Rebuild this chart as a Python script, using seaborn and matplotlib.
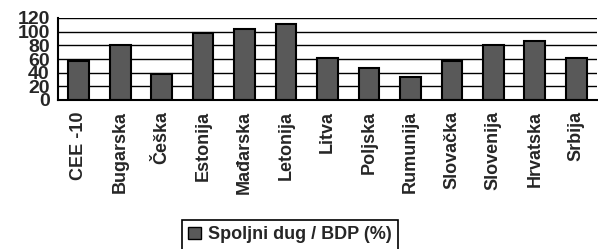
import pandas as pd
import seaborn as sns
import matplotlib.pyplot as plt
from matplotlib.patches import Patch

# Data
countries = ['CEE -10', 'Bugarska', 'Češka', 'Estonija', 'Mađarska', 'Letonija',
             'Litva', 'Poljska', 'Rumunija', 'Slovačka', 'Slovenija', 'Hrvatska', 'Srbija']
debt_gdp = [57, 80, 38, 98, 104, 111, 61, 47, 34, 57, 80, 86, 61]
series_name = 'Spoljni dug / BDP (%)'
y_ticks = [0, 20, 40, 60, 80, 100, 120]

df = pd.DataFrame({'country': countries, 'value': debt_gdp})

sns.set_style('white')
plt.rcParams['font.family'] = ['Liberation Sans', 'DejaVu Sans']
plt.rcParams['font.weight'] = 'bold'

fig = plt.figure(figsize=(5.98, 2.49), dpi=100)
ax = fig.add_axes([58 / 598, 1 - 100 / 249, (597 - 58) / 598, 82 / 249])

bar_color = '#595959'
sns.barplot(data=df, x='country', y='value', color=bar_color, width=0.5,
            edgecolor='black', linewidth=1.5, saturation=1, ax=ax)

ax.set_ylim(0, 120)
ax.set_xlim(-0.5, len(countries) - 0.5)
ax.set_yticks(y_ticks)
ax.set_yticklabels([str(t) for t in y_ticks], fontsize=14, fontweight='bold')
ax.set_xticklabels(countries, rotation=90, fontsize=13, fontweight='bold')
ax.set_xlabel('')
ax.set_ylabel('')

# gridlines behind bars
ax.set_axisbelow(True)
ax.yaxis.grid(True, color='black', linewidth=1)

# ticks: x ticks at category boundaries, outward
ax.tick_params(axis='x', which='major', length=0, pad=8)
ax.set_xticks([i - 0.5 for i in range(len(countries) + 1)], minor=True)
ax.tick_params(axis='x', which='minor', length=5, width=1.2, color='black', direction='out')
ax.tick_params(axis='y', length=5, width=1, color='black', direction='out', pad=1)

for side in ['top', 'right']:
    ax.spines[side].set_visible(False)
for side in ['left', 'bottom']:
    ax.spines[side].set_color('black')
    ax.spines[side].set_linewidth(1.5)

handle = Patch(facecolor=bar_color, edgecolor='black', linewidth=1)
leg = fig.legend([handle], [series_name], loc='upper center',
                 bbox_to_anchor=(290 / 598, 1 - 220 / 249), borderaxespad=0,
                 prop={'size': 13, 'weight': 'bold'}, fancybox=False,
                 framealpha=1, edgecolor='black', handlelength=0.7,
                 handleheight=0.7, handletextpad=0.4, borderpad=0.35)
leg.get_frame().set_linewidth(1.2)

fig.savefig('out.png', dpi=100)
